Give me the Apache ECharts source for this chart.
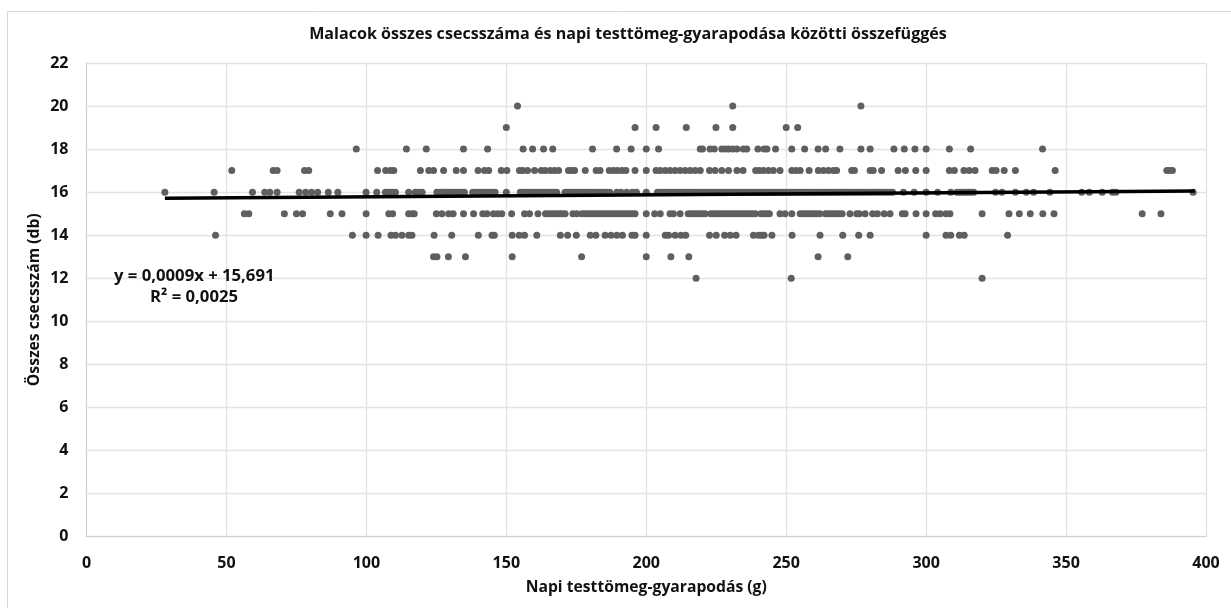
<!DOCTYPE html>
<html><head><meta charset="utf-8">
<script src="https://cdn.jsdelivr.net/npm/echarts@6/dist/echarts.min.js"></script>
<style>html,body{margin:0;padding:0;background:#fff}#c{width:1231px;height:608px}</style>
</head><body><div id="c"></div>
<script>
const titleText = 'Malacok összes csecsszáma és napi testtömeg-gyarapodása közötti összefüggés';
const xName = 'Napi testtömeg-gyarapodás (g)';
const yName = 'Összes csecsszám (db)';
const equation = 'y = 0,0009x + 15,691';
const rSquared = 'R² = 0,0025';
const trendX = [28, 396];
const trendY = [15.716, 16.047];
const x20 = [154, 230.9, 276.7];
const x19 = [150, 196, 203.5, 214.3, 224.9, 230.9, 250, 254.1];
const x18 = [96.4,114.3,121.4,134.7,143.3,156,159.4,163.3,166.6,180.8,189.4,194.6,200,204.4,219.3,220.1,222.8,224.3,227,228.2,229.4,230.9,232.4,234.7,235.9,239.9,242.1,243.1,246.2,252,256.6,261.4,264.1,269.2,276.7,280,288.5,292.2,296,300,308.3,315.9,341.6];
const x17 = [51.9,66.7,68.1,77.9,79.4,104,106.9,108.6,109.8,119.3,122.3,124,127.6,132.1,134.7,139.9,142.2,143.7,148.2,150.2,154.7,155.9,157.6,160.1,162.5,163.9,165.7,167.2,168.7,172.2,173.4,174.4,178.2,182.1,183.5,186.8,188.3,189.7,191.3,192.7,196,200,203.5,205,206.8,208.5,210.3,212.1,213.9,215.7,217.5,219.3,222.6,224.6,227,229.4,232.4,234.6,239.1,240.4,241.9,243.7,245.4,247.8,252,253.5,255,258.2,261.5,263.3,265.1,266.9,268,273.4,274.4,280,281.1,284.1,290,292.6,296.3,300,308.3,310.1,313.5,315.4,317.5,323.6,325,327.9,331.9,346.1,386,387,388];
const x16 = [28,45.6,59.3,63.7,65.5,68.1,76,78.3,80.4,82.6,86.4,89.8,99.9,103.7,106.8,108,109.2,110.4,115.1,117.5,118.7,119.9,125.2,126.4,127,128,129,130,131,132,133,134,135,138,139,140,141,142,143,144,145,146,150,155,156,157,158,159,160,161,162,163,164,165,166,167,168,171,172,173,174,175,176,177,178,179,180,181,182,183,184,185,186,187,189.5,191,193,195,196.5,200,204,205,206,207,208,209,210,211,212,213,214,215,216,217,218,219,220,221,222,223,224,225,226,227,228,229,230,231,232,233,234,235,236,237,238,239,240,241,242,243,244,245,246,247,248,249,250,251,252,253,254,255,256,257,258,259,260,261,262,263,264,265,266,267,268,269,270,271,272,273,274,275,276,277,278,279,280,281,282,283,284,285,286,287,288,291.9,295.7,300,304.1,308.8,311,312,313,314,315,316,317,324.8,327.1,331.9,335.8,338.4,344.2,355.6,358.3,362.9,366.6,367.8,395.4];
const x15 = [56.4,58,70.7,75,77.2,87.1,91.3,99.9,108,109.4,115.1,116.3,117.1,125,127,129.4,131,134.7,138.3,141.6,143.1,145.4,146.9,148.4,151.9,156.5,158.3,161.3,164,165,166,167,168,169,170,171,173.8,175.2,177,178,179,180,181,182,183,184,185,186,187,188,189,190,191,192,193,194,195,196,200,203,205,208.5,209.7,212.1,215,216,217,218,219,220,221,223,224,225,226,227,228,229,230,231,232,233,234,235,236,237,238,239,241,242,243,244,247.8,249.6,252,255,256,257,258,259,260,261,262,264,265,266,267,268,269,270,272.8,275.2,276.1,278.2,280.9,282.6,285,287.1,291.5,292.5,296.4,300,303.4,305,307.1,308.5,320,329.6,333.3,337.2,341.7,345.7,377.2,383.9];
const x14 = [46.1,95,99.9,104.2,108.8,110.4,112.7,115.1,116.3,124.2,130.5,140,144.9,145.7,152.1,154.6,156.5,160.9,169.3,171.9,175,180,182,185.3,187.4,189.5,191.5,194.9,196,200,206.8,208,210.3,212.4,214.1,222.6,225,228,230,232.1,238.3,240.1,241.3,242.1,244.9,252.1,262.1,270.2,275.9,280,300,307.1,308.8,311.9,313.6,329.1];
const x13 = [124,125.2,129.3,135.4,152.1,176.9,200,208.8,215.2,261.4,272];
const x12 = [217.8,251.8,320];
const levels = [[20,x20],[19,x19],[18,x18],[17,x17],[16,x16],[15,x15],[14,x14],[13,x13],[12,x12]];
const points = [];
levels.forEach(([y, xs]) => xs.forEach(x => points.push([x, y])));
const font = '"Open Sans","Noto Sans",sans-serif';
const chart = echarts.init(document.getElementById('c'), null, {renderer:'canvas'});
chart.setOption({
  animation:false,
  backgroundColor:'#fff',
  title:{text:titleText,left:623,top:21,textAlign:'center',textStyle:{fontFamily:font,fontSize:16.1,fontWeight:'bold',color:'#111'}},
  grid:{left:86.5,right:25,top:63,bottom:71.5,containLabel:false},
  xAxis:{type:'value',min:0,max:400,interval:50,name:xName,nameLocation:'middle',nameGap:43,nameMoveOverlap:false,
    nameTextStyle:{fontFamily:font,fontSize:15.7,fontWeight:'bold',color:'#111'},
    axisLine:{lineStyle:{color:'#cfcfcf',width:1}},axisTick:{show:false},
    axisLabel:{fontFamily:font,fontSize:16,fontWeight:'bold',color:'#111',margin:19,showMinLabel:true,showMaxLabel:true},
    splitLine:{show:true,lineStyle:{color:'#e3e3e3',width:1.3}}},
  yAxis:{type:'value',min:0,max:22,interval:2,name:yName,nameLocation:'middle',nameGap:44,nameMoveOverlap:false,
    nameTextStyle:{fontFamily:font,fontSize:15.7,fontWeight:'bold',color:'#111'},
    axisLine:{show:true,lineStyle:{color:'#cfcfcf',width:1}},axisTick:{show:false},
    axisLabel:{fontFamily:font,fontSize:16,fontWeight:'bold',color:'#111',margin:18,showMinLabel:true,showMaxLabel:true},
    splitLine:{show:true,lineStyle:{color:'#e3e3e3',width:1.3}}},
  series:[
    {type:'scatter',data:points,symbolSize:7,itemStyle:{color:'#5f5f5f',opacity:1},z:3},
    {type:'line',data:trendX.map((x,i)=>[x,trendY[i]]),symbol:'none',lineStyle:{color:'#000',width:3.5},z:4}
  ],
  graphic:[
    {type:'line',shape:{x1:7.5,y1:11.5,x2:7.5,y2:608},style:{stroke:'#d9d9d9',lineWidth:1}},
    {type:'line',shape:{x1:7.5,y1:11.5,x2:1231,y2:11.5},style:{stroke:'#d9d9d9',lineWidth:1}},
    {type:'text',left:114,top:268,z:10,style:{text:equation,fontFamily:font,fontSize:16.7,fontWeight:'bold',fill:'#111'}},
    {type:'text',left:150,top:289,z:10,style:{text:rSquared,fontFamily:font,fontSize:16.7,fontWeight:'bold',fill:'#111'}}
  ]
});
</script></body></html>
